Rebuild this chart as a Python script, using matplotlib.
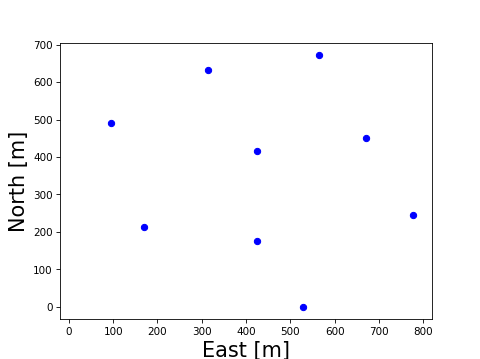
import matplotlib
matplotlib.use("Agg")
import matplotlib.pyplot as plt

east = [95, 314, 564, 424, 672, 169, 424, 777, 529]
north = [490, 631, 671, 416, 452, 213, 177, 244, 0]

fig = plt.figure(figsize=(6.4, 4.79), dpi=75)
plt.plot(east, north, "bo")
plt.xlim(-20, 820)
plt.xlabel("East [m]", fontsize=20)
plt.ylabel("North [m]", fontsize=20)
plt.savefig("out.png", dpi=75)
